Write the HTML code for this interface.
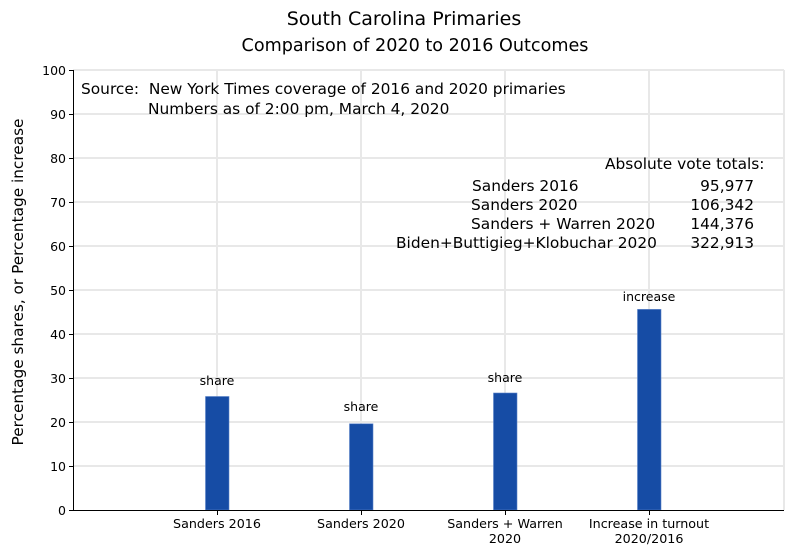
<!DOCTYPE html>
<html><head><meta charset="utf-8"><style>body{margin:0;background:#fff}</style></head><body>
<svg width="800" height="550" xmlns="http://www.w3.org/2000/svg" font-family="DejaVu Sans, Liberation Sans, sans-serif">
<rect width="800" height="550" fill="#fff"/>
<g stroke="#e8e8e8" stroke-width="2">
<line x1="73" y1="466" x2="784" y2="466"/><line x1="73" y1="422" x2="784" y2="422"/>
<line x1="73" y1="378" x2="784" y2="378"/><line x1="73" y1="334" x2="784" y2="334"/>
<line x1="73" y1="290" x2="784" y2="290"/><line x1="73" y1="246" x2="784" y2="246"/>
<line x1="73" y1="202" x2="784" y2="202"/><line x1="73" y1="158" x2="784" y2="158"/>
<line x1="73" y1="114" x2="784" y2="114"/><line x1="73" y1="70" x2="784" y2="70"/>
<line x1="217" y1="70" x2="217" y2="510"/><line x1="361" y1="70" x2="361" y2="510"/>
<line x1="505" y1="70" x2="505" y2="510"/><line x1="649" y1="70" x2="649" y2="510"/>
<line x1="784" y1="70" x2="784" y2="510"/>
</g>
<g fill="#164ca5" stroke="#5a82c8" stroke-width="0.6">
<rect x="205.5" y="396.5" width="23.5" height="113.5"/>
<rect x="349.5" y="423.8" width="23.5" height="86.2"/>
<rect x="493.5" y="393" width="23.5" height="117"/>
<rect x="637.5" y="309.4" width="23.5" height="200.6"/>
</g>
<g stroke="#000" stroke-width="1">
<line x1="73.5" y1="70" x2="73.5" y2="511"/><line x1="73" y1="510.5" x2="784" y2="510.5"/>
<line x1="69" y1="510.5" x2="73" y2="510.5"/><line x1="69" y1="466.5" x2="73" y2="466.5"/><line x1="69" y1="422.5" x2="73" y2="422.5"/><line x1="69" y1="378.5" x2="73" y2="378.5"/><line x1="69" y1="334.5" x2="73" y2="334.5"/><line x1="69" y1="290.5" x2="73" y2="290.5"/><line x1="69" y1="246.5" x2="73" y2="246.5"/><line x1="69" y1="202.5" x2="73" y2="202.5"/><line x1="69" y1="158.5" x2="73" y2="158.5"/><line x1="69" y1="114.5" x2="73" y2="114.5"/><line x1="69" y1="70.5" x2="73" y2="70.5"/>
<line x1="217.5" y1="510" x2="217.5" y2="515"/><line x1="361.5" y1="510" x2="361.5" y2="515"/><line x1="505.5" y1="510" x2="505.5" y2="515"/><line x1="649.5" y1="510" x2="649.5" y2="515"/>
</g>
<g font-size="12.5" text-anchor="end" fill="#000">
<text x="66" y="515">0</text><text x="66" y="471">10</text><text x="66" y="427">20</text><text x="66" y="383">30</text><text x="66" y="339">40</text><text x="66" y="295">50</text><text x="66" y="251">60</text><text x="66" y="207">70</text><text x="66" y="163">80</text><text x="66" y="119">90</text><text x="66" y="75">100</text>
</g>
<g font-size="12.7" text-anchor="middle" fill="#000">
<text x="217" y="528">Sanders 2016</text><text x="361" y="528">Sanders 2020</text>
<text x="505" y="528">Sanders + Warren</text><text x="505" y="543">2020</text>
<text x="649" y="528">Increase in turnout</text><text x="649" y="543">2020/2016</text>
</g>
<g font-size="12.5" text-anchor="middle" fill="#000">
<text x="217" y="385">share</text><text x="361" y="411">share</text><text x="505" y="382">share</text><text x="649" y="301">increase</text>
</g>
<text x="23" y="282" font-size="15.3" text-anchor="middle" transform="rotate(-90 23 282)">Percentage shares, or Percentage increase</text>
<text x="404" y="25" font-size="19" text-anchor="middle">South Carolina Primaries</text>
<text x="415" y="51" font-size="17.6" text-anchor="middle">Comparison of 2020 to 2016 Outcomes</text>
<g font-size="15.4" fill="#000">
<text x="81" y="94" xml:space="preserve">Source:  New York Times coverage of 2016 and 2020 primaries</text>
<text x="148" y="114">Numbers as of 2:00 pm, March 4, 2020</text>
<text x="605" y="169">Absolute vote totals:</text>
<text x="472" y="191">Sanders 2016</text>
<text x="471" y="210">Sanders 2020</text>
<text x="471" y="229">Sanders + Warren 2020</text>
<text x="396" y="248">Biden+Buttigieg+Klobuchar 2020</text>
<g text-anchor="end"><text x="754" y="191">95,977</text><text x="754" y="210">106,342</text><text x="754" y="229">144,376</text><text x="754" y="248">322,913</text></g>
</g>
</svg>
</body></html>
